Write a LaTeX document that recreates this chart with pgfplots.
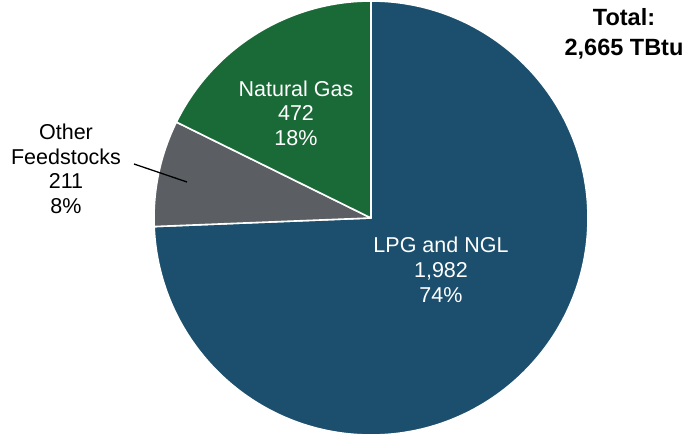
\documentclass[border=0pt]{standalone}
\usepackage{fontspec}
\setmainfont{Liberation Sans}
\usepackage{pgfplots}
\pgfplotsset{compat=1.18}
\definecolor{lpgblue}{HTML}{1B4F6D}
\definecolor{gasgreen}{HTML}{1A6A37}
\definecolor{othergray}{HTML}{5B5F63}
\begin{document}
\begin{tikzpicture}
% values (TBtu)
\def\vLPG{1982}
\def\vOther{211}
\def\vGas{472}
\pgfmathsetmacro{\tot}{\vLPG+\vOther+\vGas}
\pgfmathsetmacro{\aA}{90}
\pgfmathsetmacro{\aB}{90-360*(\vLPG/\tot)}
\pgfmathsetmacro{\aC}{\aB-360*(\vOther/\tot)}
\pgfmathsetmacro{\aD}{\aC-360*(\vGas/\tot)}
\begin{axis}[x=1pt,y=1pt,xmin=0,xmax=693,ymin=0,ymax=440,hide axis,clip=false,scale only axis]
\path (axis cs:0,0) (axis cs:693,440);
\fill[lpgblue,draw=white,line width=1.6pt,line join=round] (axis cs:371,222) -- ++(\aA:217pt) arc[start angle=\aA,end angle=\aB,radius=217pt] -- cycle;
\fill[othergray,draw=white,line width=1.6pt,line join=round] (axis cs:371,222) -- ++(\aB:217pt) arc[start angle=\aB,end angle=\aC,radius=217pt] -- cycle;
\fill[gasgreen,draw=white,line width=1.6pt,line join=round] (axis cs:371,222) -- ++(\aC:217pt) arc[start angle=\aC,end angle=\aD,radius=217pt] -- cycle;
\draw[black,line width=1.3pt] (axis cs:134,276) -- (axis cs:187,258);
\node[align=center,text=white,font=\fontsize{21.5}{24.5}\selectfont] at (axis cs:296,327) {Natural Gas\\472\\18\%};
\node[align=center,text=black,font=\fontsize{21.5}{24.5}\selectfont] at (axis cs:66,271) {Other\\Feedstocks\\211\\8\%};
\node[align=center,text=white,font=\fontsize{21.5}{25}\selectfont] at (axis cs:441,170) {LPG and NGL\\1,982\\74\%};
\node[align=center,text=black,font=\fontsize{23.5}{29.5}\selectfont\bfseries] at (axis cs:624,406) {Total:\\2,665 TBtu};
\end{axis}
\end{tikzpicture}
\end{document}
